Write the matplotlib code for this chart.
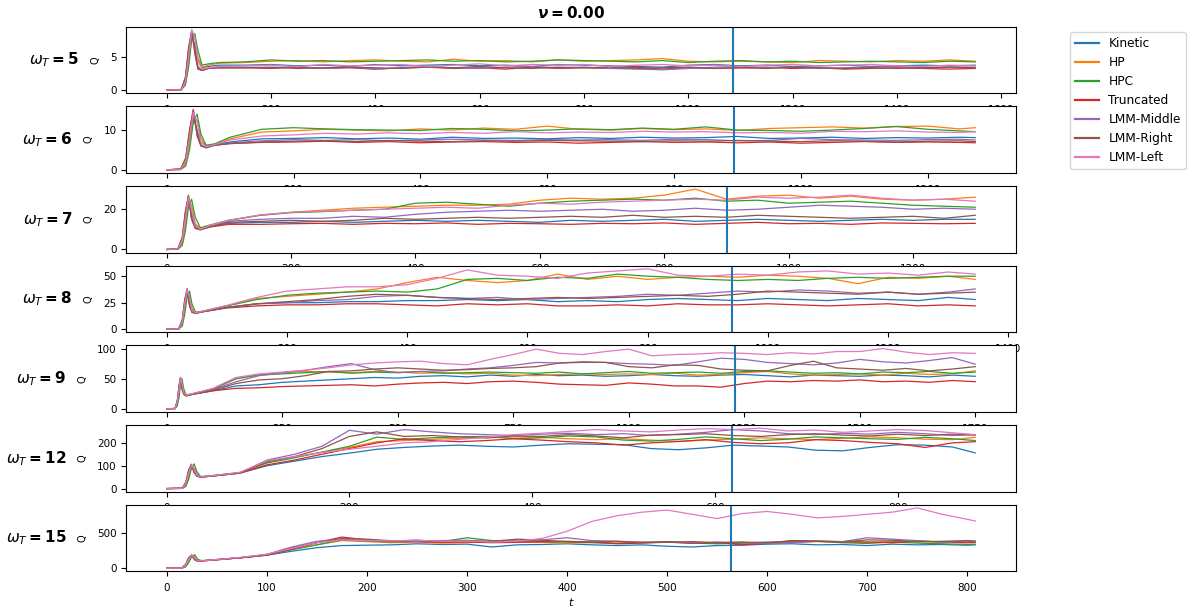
import numpy as np
import matplotlib.pyplot as plt
from matplotlib.lines import Line2D
from matplotlib.ticker import MultipleLocator

# data
labels = ['Kinetic', 'HP', 'HPC', 'Truncated', 'LMM-Middle', 'LMM-Right', 'LMM-Left']
omegas = [5, 6, 7, 8, 9, 12, 15]
t_marker = [1085, 895, 901, 941, 1230, 619, 564]
yticks = [[0, 5], [0, 10], [0, 20], [0, 25, 50], [0, 50, 100], [0, 100, 200], [0, 500]]
xstep = [200, 200, 200, 200, 250, 200, 100]

# omega_T = 5
t_w5 = [0, 28, 36, 42, 48, 54, 60, 68, 80, 100, 150, 200, 250, 300, 350, 400, 450, 500, 550, 600,
        650, 700, 750, 800, 850, 900, 950, 1000, 1050, 1100, 1150, 1200, 1250, 1300, 1350, 1400,
        1450, 1500, 1550]
kin_w5 = [0, 0.05, 1.2, 4.5, 8.0, 7.0, 4.5, 3.4, 3.6, 3.8,
          3.8, 3.9, 3.7, 3.8, 3.6, 3.9, 3.7, 3.8, 3.9, 3.7, 3.8, 3.6, 3.9, 3.8, 3.7, 3.6, 3.5, 3.8,
          3.9, 3.7, 3.8, 3.6, 3.7, 3.8, 3.6, 3.7, 3.8, 3.7, 3.8]
hp_w5 = [0, 0.05, 1.0, 4.0, 8.5, 8.0, 5.0, 3.5, 3.8, 4.1,
         4.2, 4.4, 4.5, 4.3, 4.5, 4.6, 4.4, 4.3, 4.7, 4.4, 4.5, 4.3, 4.6, 4.4, 4.5, 4.6, 4.8, 4.4,
         4.3, 4.4, 4.3, 4.2, 4.5, 4.4, 4.3, 4.5, 4.4, 4.6, 4.4]
hpc_w5 = [0, 0.03, 0.8, 3.5, 7.8, 8.6, 6.0, 3.8, 4.0, 4.2,
          4.3, 4.6, 4.4, 4.5, 4.3, 4.4, 4.5, 4.6, 4.4, 4.5, 4.3, 4.4, 4.6, 4.5, 4.4, 4.3, 4.5, 4.2,
          4.4, 4.5, 4.3, 4.4, 4.2, 4.3, 4.4, 4.3, 4.2, 4.4, 4.3]
tru_w5 = [0, 0.1, 2.0, 6.5, 9.0, 5.5, 3.2, 3.0, 3.3, 3.4,
          3.4, 3.3, 3.5, 3.3, 3.4, 3.2, 3.4, 3.5, 3.3, 3.4, 3.2, 3.5, 3.3, 3.4, 3.3, 3.5, 3.2, 3.4,
          3.3, 3.4, 3.5, 3.3, 3.4, 3.2, 3.3, 3.4, 3.3, 3.2, 3.3]
mid_w5 = [0, 0.08, 1.6, 5.5, 8.8, 6.5, 3.6, 3.0, 3.3, 3.5,
          3.5, 3.4, 3.6, 3.3, 3.5, 3.2, 3.4, 3.6, 3.4, 3.3, 3.5, 3.6, 3.4, 3.5, 3.3, 3.2, 3.1, 3.3,
          3.5, 3.6, 3.4, 3.5, 3.3, 3.4, 3.5, 3.6, 3.4, 3.5, 3.5]
rig_w5 = [0, 0.1, 1.9, 6.2, 9.1, 6.0, 3.3, 3.0, 3.3, 3.4,
          3.4, 3.5, 3.3, 3.4, 3.5, 3.4, 3.3, 3.5, 3.4, 3.6, 3.4, 3.3, 3.5, 3.4, 3.5, 3.3, 3.4, 3.5,
          3.3, 3.4, 3.3, 3.5, 3.4, 3.3, 3.4, 3.3, 3.4, 3.5, 3.4]
lef_w5 = [0, 0.06, 1.3, 5.0, 9.2, 8.0, 4.5, 3.2, 3.4, 3.6,
          3.7, 3.8, 3.6, 3.9, 3.7, 3.8, 3.9, 3.6, 3.8, 4.0, 3.7, 3.9, 3.8, 3.9, 3.6, 3.8, 3.9, 3.7,
          3.8, 3.6, 3.8, 3.9, 3.7, 3.8, 3.9, 3.7, 3.6, 3.8, 3.7]

# omega_T = 6
t_w6 = [0, 22, 30, 36, 42, 48, 54, 62, 75, 100, 150, 200, 250, 300, 350, 400, 450, 500, 550, 600,
        650, 700, 750, 800, 850, 900, 950, 1000, 1050, 1100, 1150, 1200, 1250, 1275]
kin_w6 = [0, 0.1, 2.0, 7.5, 13.0, 10.0, 7.0, 6.0, 6.3, 7.0,
          7.8, 7.9, 8.1, 7.8, 8.0, 7.7, 8.2, 7.9, 8.0, 7.8, 8.1, 7.9, 8.2, 8.0, 8.1, 8.4, 7.9, 8.0,
          8.2, 7.9, 8.1, 8.0, 8.2, 8.1]
hp_w6 = [0, 0.1, 1.5, 6.5, 13.5, 12.5, 8.0, 6.0, 6.4, 7.8,
         9.5, 9.8, 10.2, 10.0, 9.8, 10.3, 10.0, 10.5, 10.2, 11.0, 10.2, 10.0, 10.4, 10.1, 10.3, 9.9,
         10.4, 10.6, 10.8, 10.5, 10.9, 11.0, 10.3, 10.6]
hpc_w6 = [0, 0.05, 1.0, 5.0, 12.0, 14.0, 9.0, 6.2, 6.5, 8.2,
          10.2, 10.6, 10.3, 10.1, 10.0, 9.9, 10.4, 10.2, 9.8, 10.0, 10.3, 10.1, 10.5, 10.2, 10.8,
          10.0, 9.9, 9.7, 10.0, 10.4, 10.9, 10.2, 9.8, 9.6]
tru_w6 = [0, 0.2, 3.0, 10.0, 15.2, 8.5, 6.0, 5.6, 6.2, 6.6,
          6.9, 7.0, 7.2, 6.9, 7.1, 6.8, 7.0, 7.1, 6.9, 7.0, 6.7, 6.9, 7.1, 6.9, 7.0, 6.8, 7.0, 6.7,
          6.9, 7.1, 6.9, 7.0, 6.9, 6.8]
mid_w6 = [0, 0.15, 2.5, 9.0, 14.5, 9.5, 6.3, 5.5, 6.1, 6.8,
          7.3, 7.6, 7.4, 7.6, 7.3, 7.5, 7.7, 7.5, 7.4, 7.6, 7.5, 7.6, 7.4, 7.7, 7.6, 7.3, 7.4, 7.9,
          7.6, 7.5, 7.4, 7.6, 7.7, 7.5]
rig_w6 = [0, 0.2, 2.8, 9.5, 15.0, 9.0, 6.1, 5.6, 6.2, 6.6,
          7.0, 7.2, 7.3, 7.1, 7.4, 7.2, 7.1, 7.3, 7.2, 7.4, 7.3, 7.2, 7.1, 7.3, 7.2, 7.4, 7.2, 7.1,
          7.3, 7.2, 7.0, 7.2, 7.3, 7.1]
lef_w6 = [0, 0.1, 2.2, 8.0, 14.5, 12.0, 7.0, 5.8, 6.3, 7.5,
          8.5, 8.8, 9.2, 9.0, 9.3, 9.1, 9.4, 9.2, 9.6, 9.3, 9.5, 9.4, 9.7, 9.5, 9.6, 9.3, 9.4, 9.2,
          9.7, 9.6, 9.8, 9.5, 9.4, 9.6]

# omega_T = 7
t_w7 = [0, 18, 25, 30, 35, 40, 46, 54, 70, 100, 150, 200, 250, 300, 350, 400, 450, 500, 550, 600,
        650, 700, 750, 800, 850, 900, 950, 1000, 1050, 1100, 1150, 1200, 1250, 1300]
kin_w7 = [0, 0.2, 4.0, 14.0, 24.0, 18.0, 12.0, 10.0, 11.5, 13.0,
          13.5, 13.5, 14.0, 13.5, 14.0, 14.5, 14.0, 14.5, 14.0, 13.5, 14.5, 14.0, 14.5, 15.0, 14.0,
          14.5, 15.0, 14.5, 14.0, 14.5, 15.0, 14.5, 15.0, 15.0]
hp_w7 = [0, 0.2, 3.0, 12.0, 25.0, 22.0, 13.0, 10.2, 12.0, 14.5,
         17.0, 18.5, 19.5, 20.5, 21.0, 21.5, 22.0, 22.0, 22.5, 24.5, 25.5, 25.0, 25.5, 27.0, 30.0,
         25.0, 26.5, 27.0, 25.5, 26.5, 25.0, 24.5, 25.0, 26.0]
hpc_w7 = [0, 0.1, 2.0, 9.0, 21.0, 25.0, 16.0, 10.8, 12.2, 14.5,
          17.0, 18.3, 18.8, 19.5, 20.0, 23.0, 23.5, 22.5, 21.5, 23.0, 24.0, 24.5, 25.0, 24.5, 25.5,
          24.0, 24.5, 23.0, 23.5, 24.0, 23.0, 22.0, 21.5, 21.0]
tru_w7 = [0, 0.4, 6.0, 19.0, 26.5, 15.0, 10.5, 9.8, 11.2, 12.5,
          12.5, 12.8, 13.0, 12.5, 13.0, 12.8, 13.2, 12.5, 13.0, 12.8, 12.5, 13.0, 12.8, 13.2, 12.5,
          13.0, 13.5, 12.8, 13.0, 12.5, 13.2, 13.0, 12.8, 13.0]
mid_w7 = [0, 0.3, 5.0, 17.0, 26.0, 16.0, 11.0, 9.8, 11.5, 14.0,
          15.0, 15.5, 15.5, 16.5, 16.0, 17.5, 18.5, 19.0, 19.5, 19.0, 19.5, 20.0, 19.0, 19.5, 20.5,
          19.5, 20.0, 21.0, 22.0, 21.5, 21.0, 20.0, 20.5, 20.0]
rig_w7 = [0, 0.4, 5.5, 18.0, 27.0, 15.5, 10.6, 9.8, 11.3, 13.5,
          14.0, 14.5, 14.0, 14.5, 15.5, 15.0, 15.5, 16.0, 15.5, 16.0, 16.5, 16.0, 17.0, 16.0, 16.5,
          16.0, 17.0, 16.5, 16.0, 15.5, 16.0, 16.5, 15.5, 17.0]
lef_w7 = [0, 0.3, 4.5, 15.0, 26.0, 20.0, 12.0, 10.0, 12.0, 14.5,
          17.2, 18.5, 19.0, 19.5, 20.0, 20.5, 21.0, 20.5, 22.0, 23.0, 22.5, 23.5, 24.0, 24.5, 25.0,
          24.5, 26.0, 25.5, 26.0, 27.0, 25.5, 24.5, 25.0, 24.0]

# omega_T = 8
t_w8 = [0, 20, 26, 30, 34, 38, 42, 48, 60, 100, 150, 200, 250, 300, 350, 400, 450, 500, 550, 600,
        650, 700, 750, 800, 850, 900, 950, 1000, 1050, 1100, 1150, 1200, 1250, 1300, 1345]
kin_w8 = [0, 0.3, 6, 22, 34, 26, 18, 15.5, 16.5, 20.5,
          24, 25, 25, 26, 26, 27, 27, 28, 27, 28, 26, 27, 26, 28, 29, 28, 27, 29, 28, 27, 29, 28,
          27, 30, 28]
hp_w8 = [0, 0.3, 5, 19, 35, 32, 20, 15.5, 17, 22,
         29, 31, 33, 35, 38, 44, 49, 46, 44, 46, 52, 47, 50, 47, 49, 50, 49, 51, 50, 48, 43, 49,
         48, 50, 47]
hpc_w8 = [0, 0.2, 3, 14, 30, 36, 24, 16, 17, 22,
          28, 32, 34, 35, 36, 35, 38, 47, 48, 46, 49, 48, 52, 50, 49, 47, 46, 47, 46, 48, 49, 48,
          49, 50, 50]
tru_w8 = [0, 0.5, 9, 28, 38, 22, 16, 15, 16.5, 20,
          22, 23, 23, 24, 24, 23, 22, 24, 23, 24, 22, 22, 23, 22, 24, 23, 23, 24, 23, 22, 23, 24,
          22, 23, 22]
mid_w8 = [0, 0.4, 8, 26, 37, 24, 16.5, 15, 16.5, 20.5,
          24, 25, 27, 28, 31, 32, 30, 29, 30, 28, 29, 30, 31, 33, 32, 34, 36, 35, 37, 36, 34, 35,
          33, 35, 38]
rig_w8 = [0, 0.5, 8.5, 27, 38, 23, 16, 15, 16.5, 20.5,
          24, 26, 28, 31, 33, 32, 30, 29, 28, 29, 30, 29, 30, 31, 32, 31, 33, 36, 35, 34, 33, 35,
          33, 34, 35]
lef_w8 = [0, 0.4, 7, 24, 37, 30, 18, 15.5, 17, 22.5,
          30, 36, 38, 40, 40, 42, 48, 56, 51, 50, 48, 53, 55, 57, 51, 50, 52, 51, 54, 55, 52, 53,
          51, 54, 52]

# omega_T = 9
t_w9 = [0, 18, 23, 27, 30, 33, 37, 42, 55, 100, 150, 200, 250, 300, 350, 400, 450, 500, 550, 600,
        650, 700, 750, 800, 850, 900, 950, 1000, 1050, 1100, 1150, 1200, 1250, 1300, 1350, 1400,
        1450, 1500, 1550, 1600, 1650, 1700, 1750]
kin_w9 = [0, 0.5, 10, 32, 48, 38, 27, 22, 24, 30,
          38, 40, 44, 46, 48, 50, 52, 51, 54, 55, 53, 56, 54, 57, 55, 56, 54, 55, 57, 55, 54, 56,
          57, 55, 53, 56, 55, 54, 56, 55, 53, 56, 54]
hp_w9 = [0, 0.5, 8, 28, 49, 45, 29, 22.5, 25, 33,
         50, 57, 60, 62, 61, 60, 62, 61, 59, 60, 58, 59, 56, 55, 57, 58, 57, 58, 57, 59, 56, 57,
         60, 62, 58, 56, 57, 58, 56, 59, 57, 58, 63]
hpc_w9 = [0, 0.3, 5, 20, 42, 50, 33, 23, 25, 33,
          50, 56, 58, 60, 62, 59, 61, 60, 62, 59, 60, 61, 60, 59, 61, 58, 60, 62, 59, 60, 61, 59,
          62, 63, 61, 59, 60, 58, 61, 60, 62, 59, 61]
tru_w9 = [0, 0.8, 14, 40, 52, 33, 24, 21.5, 24, 30,
          34, 35, 37, 38, 39, 40, 38, 41, 43, 44, 42, 45, 46, 44, 41, 40, 39, 43, 41, 38, 38, 36,
          42, 46, 45, 47, 46, 48, 45, 46, 44, 47, 45]
mid_w9 = [0, 0.7, 12, 37, 51, 35, 25, 22, 24.5, 32,
          45, 55, 60, 64, 70, 75, 65, 60, 62, 63, 66, 68, 72, 77, 76, 77, 77, 75, 74, 72, 78, 84,
          82, 77, 75, 73, 76, 82, 78, 76, 80, 85, 74]
rig_w9 = [0, 0.8, 13, 39, 52, 34, 24.5, 21.5, 24, 31,
          42, 48, 50, 55, 62, 63, 66, 68, 66, 64, 65, 67, 68, 70, 76, 78, 77, 70, 68, 73, 72, 66,
          64, 63, 72, 79, 68, 66, 64, 67, 63, 66, 70]
lef_w9 = [0, 0.6, 11, 34, 51, 42, 27, 22.5, 25, 34,
          52, 58, 61, 64, 68, 73, 76, 78, 79, 75, 73, 82, 90, 99, 92, 90, 95, 99, 88, 90, 91, 93,
          92, 90, 93, 91, 95, 95, 100, 94, 90, 93, 92]

# omega_T = 12
t_w12 = [0, 17, 21, 24, 27, 30, 33, 37, 50, 80, 110, 140, 170, 200, 230, 260, 290, 320, 350, 380,
         410, 440, 470, 500, 530, 560, 590, 620, 650, 680, 710, 740, 770, 800, 830, 860, 885]
kin_w12 = [0, 1, 20, 60, 95, 80, 60, 50, 55, 68,
           100, 120, 140, 155, 172, 180, 186, 190, 185, 182, 190, 196, 194, 192, 175, 170, 178,
           190, 186, 182, 168, 165, 180, 192, 190, 182, 156]
hp_w12 = [0, 1, 16, 52, 98, 92, 65, 51, 56, 70,
          116, 138, 158, 180, 205, 210, 215, 220, 222, 226, 224, 218, 214, 218, 212, 206, 212,
          216, 222, 218, 214, 220, 226, 222, 216, 214, 224]
hpc_w12 = [0, 0.5, 10, 40, 88, 108, 75, 53, 57, 70,
           112, 135, 160, 185, 225, 215, 222, 226, 228, 218, 222, 230, 226, 212, 208, 215, 226,
           218, 210, 216, 226, 222, 218, 215, 224, 218, 210]
tru_w12 = [0, 2, 28, 80, 106, 70, 55, 50, 55, 67,
           104, 125, 150, 175, 200, 218, 210, 205, 210, 218, 212, 205, 200, 190, 200, 206, 214,
           202, 196, 200, 214, 210, 202, 196, 180, 200, 205]
mid_w12 = [0, 1.5, 25, 74, 105, 74, 56, 50, 55, 69,
           125, 150, 185, 255, 238, 258, 248, 240, 236, 232, 238, 242, 236, 240, 232, 238, 246,
           258, 252, 240, 236, 242, 238, 246, 240, 232, 236]
rig_w12 = [0, 2, 27, 78, 106, 72, 55, 50, 55, 68,
           118, 140, 175, 228, 248, 228, 232, 226, 222, 230, 228, 236, 230, 222, 234, 236, 240,
           232, 228, 236, 240, 234, 230, 238, 232, 238, 234]
lef_w12 = [0, 1.2, 22, 68, 104, 86, 60, 51, 56, 71,
           122, 140, 158, 172, 185, 200, 205, 215, 225, 236, 242, 250, 258, 252, 248, 256, 262,
           258, 264, 252, 256, 246, 252, 258, 254, 244, 236]

# omega_T = 15
t_w15 = [0, 15, 19, 22, 25, 28, 31, 35, 50, 75, 100, 125, 150, 175, 200, 225, 250, 275, 300, 325,
         350, 375, 400, 425, 450, 475, 500, 525, 550, 575, 600, 625, 650, 675, 700, 725, 750, 775,
         800, 808]
kin_w15 = [0, 2, 40, 120, 175, 130, 100, 105, 120, 150, 185,
           240, 290, 320, 325, 330, 345, 335, 340, 300, 330, 335, 345, 330, 320, 330, 310, 300,
           320, 325, 340, 345, 330, 335, 320, 340, 330, 335, 325, 330]
hp_w15 = [0, 2, 32, 105, 180, 160, 110, 105, 122, 152, 190,
          270, 330, 390, 375, 360, 370, 355, 360, 380, 370, 365, 355, 365, 370, 360, 375, 370,
          360, 345, 355, 380, 375, 370, 365, 380, 370, 375, 380, 370]
hpc_w15 = [0, 1, 20, 80, 165, 190, 125, 108, 123, 150, 188,
           260, 330, 400, 385, 370, 380, 375, 430, 390, 385, 375, 370, 360, 350, 365, 375, 355,
           345, 355, 370, 365, 380, 360, 350, 370, 355, 345, 335, 340]
tru_w15 = [0, 4, 55, 150, 185, 120, 100, 103, 120, 148, 185,
           270, 360, 440, 400, 380, 375, 365, 370, 360, 365, 375, 380, 370, 345, 355, 370, 350,
           365, 330, 355, 390, 385, 375, 370, 360, 385, 370, 360, 365]
mid_w15 = [0, 3, 50, 140, 185, 125, 102, 104, 122, 152, 195,
           300, 380, 410, 395, 390, 380, 390, 395, 370, 385, 400, 430, 390, 380, 370, 365, 360,
           370, 365, 345, 360, 380, 375, 430, 410, 390, 365, 385, 375]
rig_w15 = [0, 4, 52, 145, 186, 122, 100, 104, 121, 150, 190,
           285, 360, 420, 410, 385, 395, 375, 390, 380, 410, 395, 375, 370, 380, 360, 365, 375,
           355, 370, 360, 385, 380, 370, 400, 395, 375, 380, 390, 385]
lef_w15 = [0, 3, 45, 130, 182, 150, 105, 106, 124, 155, 198,
           280, 360, 400, 390, 385, 395, 380, 385, 370, 380, 420, 520, 660, 740, 790, 820, 760,
           700, 770, 800, 760, 710, 730, 760, 790, 850, 760, 690, 665]

panels = [
    (t_w5, [kin_w5, hp_w5, hpc_w5, tru_w5, mid_w5, rig_w5, lef_w5]),
    (t_w6, [kin_w6, hp_w6, hpc_w6, tru_w6, mid_w6, rig_w6, lef_w6]),
    (t_w7, [kin_w7, hp_w7, hpc_w7, tru_w7, mid_w7, rig_w7, lef_w7]),
    (t_w8, [kin_w8, hp_w8, hpc_w8, tru_w8, mid_w8, rig_w8, lef_w8]),
    (t_w9, [kin_w9, hp_w9, hpc_w9, tru_w9, mid_w9, rig_w9, lef_w9]),
    (t_w12, [kin_w12, hp_w12, hpc_w12, tru_w12, mid_w12, rig_w12, lef_w12]),
    (t_w15, [kin_w15, hp_w15, hpc_w15, tru_w15, mid_w15, rig_w15, lef_w15]),
]

colors = ['C%d' % i for i in range(7)]

# fig, ax
fig, axes = plt.subplots(7, 1, figsize=(11.9, 6.07), dpi=100)
fig.subplots_adjust(left=0.1061, right=0.8535, top=0.956, bottom=0.0588, hspace=0.2)

for ax, tm, yt, st, (t, series) in zip(axes, t_marker, yticks, xstep, panels):
    for y, lab, c in zip(series, labels, colors):
        ax.plot(t, y, lw=0.9, color=c, label=lab)
    ax.axvline(tm, color='C0', lw=1.5)
    ax.set_yticks(yt)
    ax.xaxis.set_major_locator(MultipleLocator(st))
    ax.tick_params(labelsize=7.5)
    ax.tick_params(axis='x', pad=5)
    ax.set_ylabel('Q', fontsize=7, labelpad=7)

axes[0].set_title(r'$\boldsymbol{\nu = 0.00}$', fontsize=11)
axes[-1].set_xlabel('$t$', fontsize=8, labelpad=2)

# legend
handles = [Line2D([], [], color=c, lw=1.6) for c in colors]
fig.legend(handles, labels, loc='upper left', bbox_to_anchor=(0.899, 0.947),
           fontsize=8.7, borderaxespad=0)

# omega labels left of the y labels
fig.canvas.draw()
renderer = fig.canvas.get_renderer()
for ax, om in zip(axes, omegas):
    bb = ax.yaxis.label.get_window_extent(renderer)
    pos = ax.get_position()
    fig.text((bb.x0 - 11) / fig.bbox.width, (pos.y0 + pos.y1) / 2,
             r'$\boldsymbol{\omega_T = %d}$' % om, ha='right', va='center', fontsize=11)

fig.savefig('out.png', dpi=100)
